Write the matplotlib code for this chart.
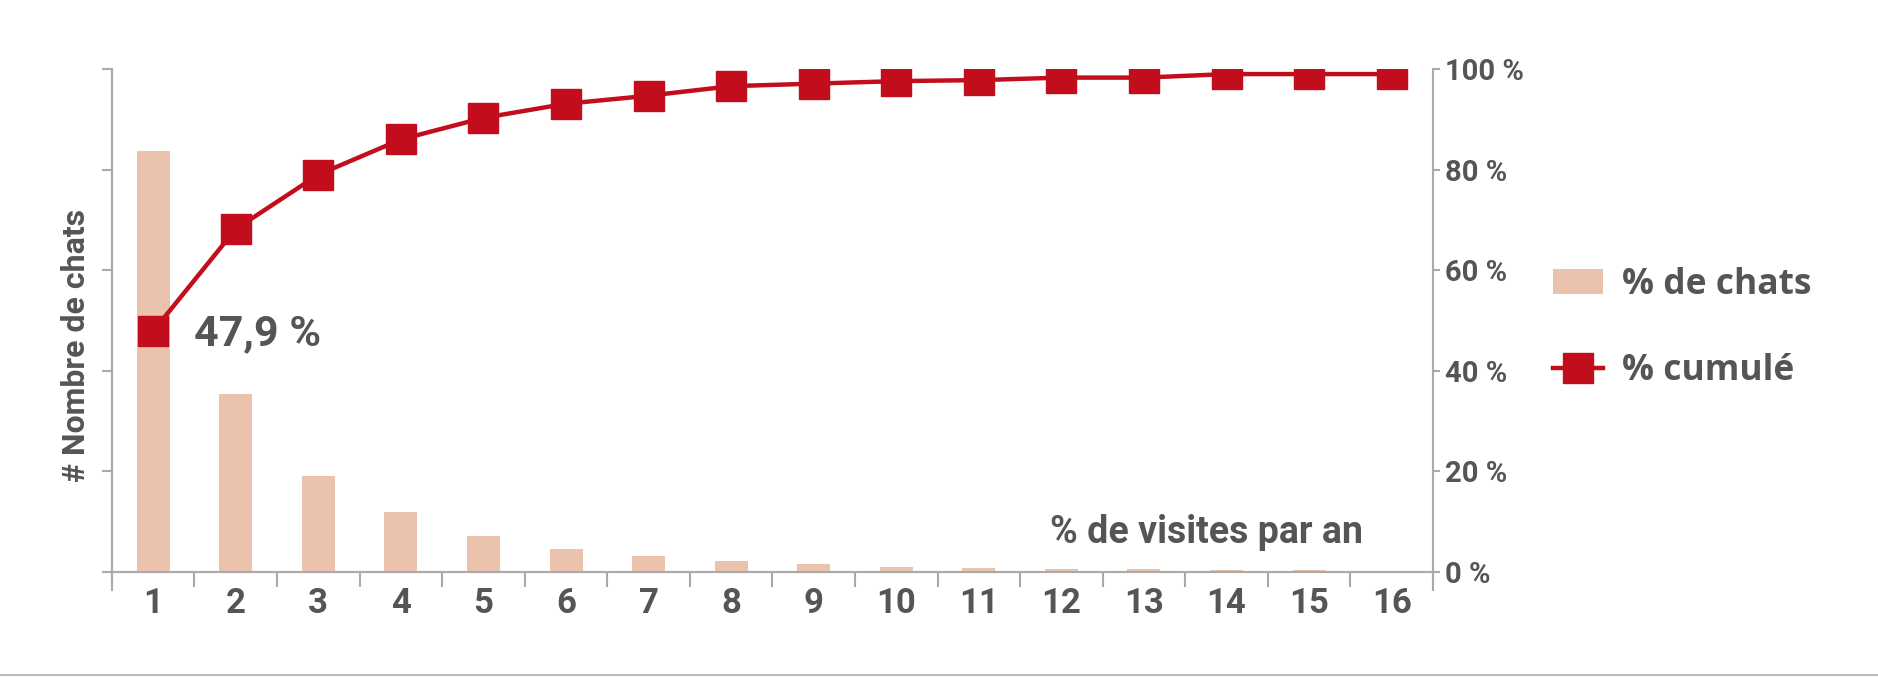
import numpy as np
import matplotlib
matplotlib.use("Agg")
import matplotlib.pyplot as plt
from matplotlib.patches import Patch
from matplotlib.lines import Line2D

# data
visites = [str(i) for i in range(1, 17)]
pct_chats = [47.9, 20.2, 10.9, 6.8, 4.1, 2.6, 1.8, 1.3, 0.9, 0.6, 0.45, 0.3, 0.3, 0.2, 0.2, 0.15]
pct_cumul = [47.9, 68.2, 79.0, 86.0, 90.3, 93.1, 94.7, 96.6, 97.1, 97.6, 97.8, 98.3, 98.3, 99.0, 99.0, 99.0]
right_ticks = [0, 20, 40, 60, 80, 100]

RED = "#C20E1C"
BAR = "#EBC3AD"
TXT = "#555555"
AXC = "#AAAAAA"
FONT = ["Roboto", "DejaVu Sans"]
LEG_FONT = ["Open Sans", "DejaVu Sans"]

fig = plt.figure(figsize=(18.78, 6.77), dpi=100)
ax = fig.add_axes([0.0596, 0.155, 0.7034, 0.743])
ax2 = ax.twinx()

x = np.arange(1, len(visites) + 1)
left_max = 57.2
ax.bar(x, pct_chats, width=0.4, color=BAR, zorder=2)
ax.set_xlim(0.5, len(visites) + 0.5)
ax.set_ylim(0, left_max)
ax.set_yticks(np.linspace(0, left_max, 6))
ax.set_yticklabels([])

ax2.plot(x, pct_cumul, color=RED, lw=3.2, marker="s", ms=21.5, zorder=3)
ax2.set_ylim(0, 100)
ax2.set_yticks(right_ticks)
ax2.set_yticklabels([f"{t} %" for t in right_ticks], fontsize=21,
                    fontweight="bold", color=TXT, family=FONT)

# x ticks: labels at centres, tick marks at boundaries
ax.set_xticks(x)
ax.set_xticklabels(visites, fontsize=25, fontweight="bold", color=TXT, family=FONT)
ax.set_xticks(np.arange(0.5, len(visites) + 1), minor=True)
ax.tick_params(axis="x", which="major", length=0, pad=11)
ax.tick_params(axis="x", which="minor", length=11, width=1.5, color=AXC)
ax.tick_params(axis="y", length=7, width=1.5, color=AXC)
ax2.tick_params(axis="y", length=5, width=1.5, color=AXC, pad=4)

for a in (ax, ax2):
    a.spines["top"].set_visible(False)
    for s in ("left", "right", "bottom"):
        a.spines[s].set_color(AXC)
        a.spines[s].set_linewidth(1.5)
ax.spines["right"].set_visible(False)
ax.spines["left"].set_bounds(-2.0, left_max)
ax2.spines["right"].set_bounds(-3.5, 100)
ax.spines["left"].set_clip_on(False)
ax2.spines["right"].set_clip_on(False)

ax.set_ylabel("# Nombre de chats", fontsize=23, fontweight="bold", color=TXT, family=FONT)
ax.yaxis.set_label_coords(-0.016, 0.45)

lab = f"{pct_cumul[0]:.1f} %".replace(".", ",")
ax2.text(1.49, 45.0, lab, fontsize=31, fontweight="bold", color=TXT,
         family=FONT, va="baseline", ha="left")
ax2.text(11.86, 5.8, "% de visites par an", fontsize=27, fontweight="bold",
         color=TXT, family=FONT, va="baseline", ha="left")

handles = [Patch(facecolor=BAR, edgecolor="none"),
           Line2D([], [], color=RED, lw=3.2, marker="s", ms=21.5)]
fig.legend(handles, ["% de chats", "% cumulé"], loc="upper left",
           bbox_to_anchor=(0.827, 0.606), frameon=False, borderpad=0,
           borderaxespad=0, handlelength=1.4, handletextpad=0.55,
           labelspacing=1.42,
           prop={"family": LEG_FONT, "weight": "bold", "size": 25.5}, labelcolor=TXT)

# thin page border at the bottom
fig.add_artist(Line2D([0, 1], [0.003, 0.003], color="#BBBBBB", lw=1.5))

fig.savefig("out.png", dpi=100)
